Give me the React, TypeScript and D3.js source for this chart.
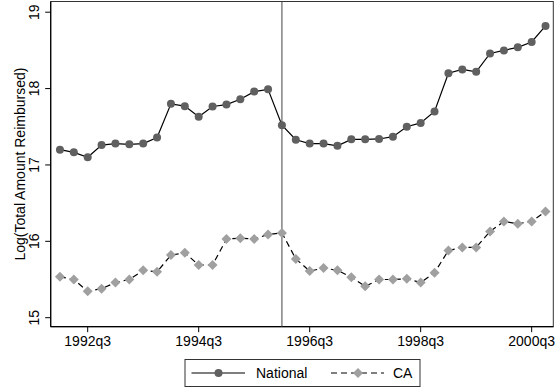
import React from "react";
import * as d3 from "d3";

// Quarterly series, 1992q1 through 2000q4
const startYear = 1992;
const startQuarter = 1;
const national = [
  17.2, 17.165, 17.1, 17.26, 17.28, 17.27, 17.28, 17.36,
  17.8, 17.77, 17.63, 17.765, 17.79, 17.86, 17.96, 17.99,
  17.52, 17.33, 17.28, 17.28, 17.25, 17.335, 17.335, 17.34,
  17.37, 17.5, 17.55, 17.7, 18.2, 18.25, 18.22, 18.46,
  18.5, 18.54, 18.61, 18.82,
];
const ca = [
  15.535, 15.5, 15.345, 15.38, 15.46, 15.5, 15.62, 15.6,
  15.82, 15.85, 15.69, 15.69, 16.03, 16.04, 16.03, 16.09,
  16.11, 15.77, 15.61, 15.65, 15.62, 15.53, 15.41, 15.5,
  15.5, 15.51, 15.46, 15.59, 15.88, 15.92, 15.92, 16.13,
  16.26, 16.23, 16.26, 16.39,
];
const xTickLabels = ["1992q3", "1994q3", "1996q3", "1998q3", "2000q3"];
const yTicks = [15, 16, 17, 18, 19];
const eventQuarter = "1996q1";
const seriesNames = ["National", "CA"];
const yTitle = "Log(Total Amount Reimbursed)";

const W = 556;
const H = 389;
const plot = { left: 50.7, right: 553.3, top: 1.5, bottom: 326.7 };
const FONT = "'Liberation Sans', Arial, Helvetica, sans-serif";

// quarter label -> running quarter index
const qIndex = (label: string) => {
  const [y, q] = label.split("q").map(Number);
  return y * 4 + (q - 1);
};
const t0 = startYear * 4 + (startQuarter - 1);

export default function App() {
  const x = d3
    .scaleLinear()
    .domain([qIndex("1992q3") - 2.667, qIndex("1992q3") + 33.56])
    .range([plot.left, plot.right]);
  const y = d3
    .scaleLinear()
    .domain([14.882, 19.14])
    .range([plot.bottom, plot.top]);

  const line = d3
    .line<number>()
    .x((_, i) => x(t0 + i))
    .y((d) => y(d));

  const diamond = (cx: number, cy: number, r: number) =>
    `M${cx},${cy - r}L${cx + r},${cy}L${cx},${cy + r}L${cx - r},${cy}Z`;

  const natColor = "#606060";
  const caColor = "#a0a0a0";
  const dash = "6,4";

  const midY = (plot.top + plot.bottom) / 2;
  const legY = 373;

  return (
    <div style={{ position: "absolute", left: 0, top: 0 }}>
      <svg width={W} height={H} style={{ display: "block", background: "#fff" }} fontFamily={FONT}>
        <rect x={0} y={0} width={W} height={H} fill="#fff" />
        {/* plot frame */}
        <rect
          x={plot.left}
          y={plot.top}
          width={plot.right - plot.left}
          height={plot.bottom - plot.top}
          fill="none"
          stroke="#333"
          strokeWidth={1}
        />
        {/* axes */}
        <line x1={plot.left} x2={plot.left} y1={plot.top} y2={plot.bottom} stroke="#000" strokeWidth={1.2} />
        <line x1={plot.left} x2={plot.right} y1={plot.bottom} y2={plot.bottom} stroke="#000" strokeWidth={1.2} />
        {yTicks.map((v) => (
          <g key={v}>
            <line x1={plot.left - 5.5} x2={plot.left} y1={y(v)} y2={y(v)} stroke="#000" strokeWidth={1} />
            <text
              transform={`translate(${39},${y(v)}) rotate(-90)`}
              textAnchor="middle"
              fontSize={14}
              fill="#000"
            >
              {v}
            </text>
          </g>
        ))}
        {xTickLabels.map((l) => (
          <g key={l}>
            <line x1={x(qIndex(l))} x2={x(qIndex(l))} y1={plot.bottom} y2={plot.bottom + 5.5} stroke="#000" strokeWidth={1} />
            <text x={x(qIndex(l))} y={plot.bottom + 19.5} textAnchor="middle" fontSize={14} fill="#000">
              {l}
            </text>
          </g>
        ))}
        <text
          transform={`translate(${24.5},${midY}) rotate(-90)`}
          textAnchor="middle"
          fontSize={14}
          fill="#000"
        >
          {yTitle}
        </text>
        {/* event marker */}
        <line
          x1={x(qIndex(eventQuarter))}
          x2={x(qIndex(eventQuarter))}
          y1={plot.top}
          y2={plot.bottom}
          stroke="#444"
          strokeWidth={1}
        />
        {/* series */}
        <path d={line(national) ?? ""} fill="none" stroke="#000" strokeWidth={1.2} />
        <path d={line(ca) ?? ""} fill="none" stroke="#000" strokeWidth={1.2} strokeDasharray={dash} />
        {national.map((v, i) => (
          <circle key={`n${i}`} cx={x(t0 + i)} cy={y(v)} r={4} fill={natColor} />
        ))}
        {ca.map((v, i) => (
          <path key={`c${i}`} d={diamond(x(t0 + i), y(v), 5)} fill={caColor} />
        ))}
        {/* legend */}
        <rect x={185} y={359.5} width={235} height={27} fill="#fff" stroke="#333" strokeWidth={1} />
        <line x1={191.5} x2={245} y1={legY} y2={legY} stroke="#000" strokeWidth={1.2} />
        <circle cx={218.5} cy={legY} r={4} fill={natColor} />
        <text x={256} y={legY + 5} fontSize={14} fill="#000">
          {seriesNames[0]}
        </text>
        <line x1={331} x2={384} y1={legY} y2={legY} stroke="#000" strokeWidth={1.2} strokeDasharray={dash} />
        <path d={diamond(358, legY, 5)} fill={caColor} />
        <text x={393} y={legY + 5} fontSize={14} fill="#000">
          {seriesNames[1]}
        </text>
      </svg>
    </div>
  );
}
